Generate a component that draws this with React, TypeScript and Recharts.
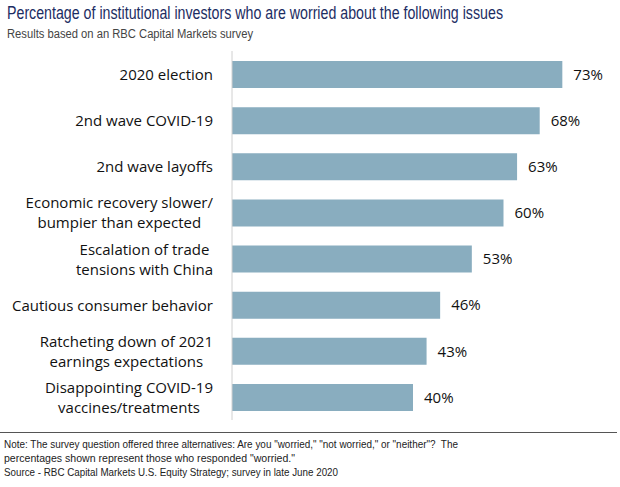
import React from "react";
import { BarChart, Bar, XAxis, YAxis, LabelList } from "recharts";

const issues = [
  "2020 election",
  "2nd wave COVID-19",
  "2nd wave layoffs",
  "Economic recovery slower/\nbumpier than expected",
  "Escalation of trade\ntensions with China",
  "Cautious consumer behavior",
  "Ratcheting down of 2021\nearnings expectations",
  "Disappointing COVID-19\nvaccines/treatments",
];
const worried = [73, 68, 63, 60, 53, 46, 43, 40];

const title = "Percentage of institutional investors who are worried about the following issues";
const subtitle = "Results based on an RBC Capital Markets survey";
const notes = [
  'Note: The survey question offered three alternatives: Are you "worried," "not worried," or "neither"?\u00a0 The',
  'percentages shown represent those who responded "worried."',
  "Source - RBC Capital Markets U.S. Equity Strategy; survey in late June 2020",
];

const data = issues.map((issue, i) => ({ issue, worried: worried[i] }));

const LABEL_FONT = "15px 'Open Sans'";
const SANS = "'Liberation Sans', Arial, sans-serif";

let ctx: CanvasRenderingContext2D | null = null;
const textWidth = (s: string) => {
  if (!ctx) ctx = document.createElement("canvas").getContext("2d");
  if (!ctx) return s.length * 7;
  ctx.font = LABEL_FONT;
  return ctx.measureText(s).width;
};

function IssueTick({ x, y, payload }: any) {
  const lines = String(payload.value).split("\n");
  const w = Math.max(...lines.map(textWidth));
  const cx = x - w / 2;
  const lh = 20;
  const top = y - ((lines.length - 1) * lh) / 2;
  return (
    <text
      textAnchor="middle"
      fill="#111"
      style={{ font: LABEL_FONT }}
      dominantBaseline="central"
    >
      {lines.map((l, i) => (
        <tspan key={i} x={cx} y={top + i * lh}>
          {l}
        </tspan>
      ))}
    </text>
  );
}

// narrow text: squeeze a sans face to the measured width of the original
function Narrow({ x, y, w, size, fill, children }: any) {
  return (
    <text
      x={x}
      y={y}
      textLength={w}
      lengthAdjust="spacingAndGlyphs"
      fontFamily={SANS}
      fontSize={size}
      fill={fill}
    >
      {children}
    </text>
  );
}

export default function App() {
  return (
    <div
      style={{
        position: "absolute",
        left: 0,
        top: 0,
        width: 620,
        height: 487,
        background: "#fff",
      }}
    >
      <div style={{ position: "absolute", left: 0, top: 0 }}>
        <BarChart
          width={620}
          height={425}
          data={data}
          layout="vertical"
          margin={{ top: 51, right: 26, bottom: 5, left: 0 }}
          barSize={27}
        >
          <XAxis type="number" domain={[0, 80]} hide />
          <YAxis
            type="category"
            dataKey="issue"
            width={232}
            tick={<IssueTick />}
            tickLine={false}
            axisLine={{ stroke: "#d0d0d0" }}
            tickMargin={13}
            interval={0}
          />
          <Bar dataKey="worried" fill="#89adbf" isAnimationActive={false}>
            <LabelList
              dataKey="worried"
              position="right"
              offset={11}
              formatter={(v: any) => `${v}%`}
              style={{ font: LABEL_FONT, fill: "#111" }}
            />
          </Bar>
        </BarChart>
      </div>
      <svg
        width={620}
        height={487}
        style={{ position: "absolute", left: 0, top: 0, pointerEvents: "none" }}
      >
        <Narrow x={7} y={19} w={496} size={17.5} fill="#1c2d63">
          {title}
        </Narrow>
        <Narrow x={7} y={38} w={246} size={12.5} fill="#444">
          {subtitle}
        </Narrow>
        <line x1={0} x2={617} y1={432.5} y2={432.5} stroke="#555" strokeWidth={1} />
        <Narrow x={4} y={448} w={454} size={11.5} fill="#222">
          {notes[0]}
        </Narrow>
        <Narrow x={4} y={462} w={291} size={11.5} fill="#222">
          {notes[1]}
        </Narrow>
        <Narrow x={4} y={476} w={334} size={11.5} fill="#222">
          {notes[2]}
        </Narrow>
      </svg>
    </div>
  );
}
